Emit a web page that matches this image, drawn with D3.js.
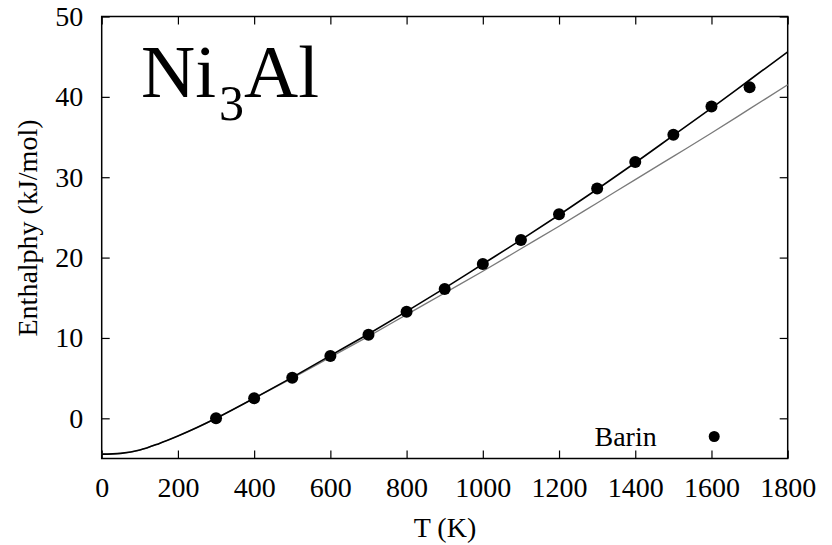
<!DOCTYPE html>
<html>
<head>
<meta charset="utf-8">
<script src="https://cdn.jsdelivr.net/npm/d3@7"></script>
<style>
  body { margin: 0; background: #fff; }
  .axis path { display: none; }
  .axis line { stroke: #000; stroke-width: 1.2; }
</style>
</head>
<body>
<div id="chart"></div>
<script>
// Barin experimental points
var barinT = [300, 400, 500, 600, 700, 800, 900, 1000, 1100, 1200, 1300, 1400, 1500, 1600, 1700];
var barinH = [0.0, 2.5, 5.05, 7.75, 10.4, 13.25, 16.1, 19.2, 22.2, 25.4, 28.6, 31.9, 35.3, 38.8, 41.2];

// calculated curves
var curveT  = [0, 50, 100, 150, 200, 250, 300, 400, 500, 600, 700, 800, 900, 1000, 1100, 1200, 1300, 1400, 1500, 1600, 1700, 1800];
var blackH  = [-4.45, -4.36, -3.95, -3.15, -2.2, -1.15, 0.0, 2.5, 5.1, 7.8, 10.5, 13.3, 16.2, 19.2, 22.2, 25.3, 28.5, 31.8, 35.2, 38.6, 42.1, 45.6];
var greyH   = [-4.45, -4.36, -3.95, -3.15, -2.2, -1.15, 0.0, 2.5, 5.0, 7.6, 10.2, 12.9, 15.6, 18.3, 21.1, 23.9, 26.8, 29.7, 32.6, 35.5, 38.5, 41.5];

var xTicks = [0, 200, 400, 600, 800, 1000, 1200, 1400, 1600, 1800];
var yTicks = [0, 10, 20, 30, 40, 50];

var serif = "'Liberation Serif', 'Times New Roman', Tinos, serif";

chart();

function chart() {
  var svg = d3.select("#chart")
              .append("svg")
              .attr("width", 832)
              .attr("height", 545);
  var margin = {top: 16.5, right: 44.3, bottom: 86.5, left: 101.7},
      width = +svg.attr("width") - margin.left - margin.right,
      height = +svg.attr("height") - margin.top - margin.bottom;

  var x = d3.scaleLinear().domain([0, 1800]).range([0, width]),
      y = d3.scaleLinear().domain([-5, 50]).range([height, 0]);

  var g = svg.append("g")
      .attr("transform", "translate(" + margin.left + "," + margin.top + ")");

  // axes with inward ticks on all four sides
  g.append("g")
      .attr("class", "axis")
      .attr("transform", "translate(0," + height + ")")
      .call(d3.axisBottom(x).tickValues(xTicks).tickFormat(d3.format("d")).tickSize(-8).tickPadding(19))
      .selectAll("text")
      .style("font-family", serif).style("font-size", "28px");
  g.append("g")
      .attr("class", "axis")
      .call(d3.axisTop(x).tickValues(xTicks).tickSize(-8).tickFormat(""));
  g.append("g")
      .attr("class", "axis")
      .call(d3.axisLeft(y).tickValues(yTicks).tickSize(-8).tickPadding(18.5))
      .selectAll("text")
      .style("font-family", serif).style("font-size", "28px");
  g.append("g")
      .attr("class", "axis")
      .attr("transform", "translate(" + width + ",0)")
      .call(d3.axisRight(y).tickValues(yTicks).tickSize(-8).tickFormat(""));

  // frame
  g.append("rect")
      .attr("width", width)
      .attr("height", height)
      .attr("fill", "none")
      .attr("stroke", "#000")
      .attr("stroke-width", 1.5);

  var line = function(vals) {
    return d3.line()
      .x(function(d, i) { return x(curveT[i]); })
      .y(function(d) { return y(d); })
      .curve(d3.curveCatmullRom)(vals);
  };

  g.append("path")
      .attr("d", line(greyH))
      .attr("fill", "none")
      .attr("stroke", "#7a7a7a")
      .attr("stroke-width", 1.3);

  g.append("path")
      .attr("d", line(blackH))
      .attr("fill", "none")
      .attr("stroke", "#000")
      .attr("stroke-width", 1.6);

  g.selectAll(".dot")
    .data(barinT)
    .enter().append("circle")
      .attr("class", "dot")
      .attr("cx", function(d) { return x(d); })
      .attr("cy", function(d, i) { return y(barinH[i]); })
      .attr("r", 6)
      .attr("fill", "#000");

  // legend
  g.append("text")
      .attr("x", 555)
      .attr("y", 429.5)
      .attr("text-anchor", "end")
      .style("font-family", serif)
      .style("font-size", "28px")
      .text("Barin");
  g.append("circle")
      .attr("cx", 612.5)
      .attr("cy", 420)
      .attr("r", 5.5)
      .attr("fill", "#000");

  // axis titles
  svg.append("text")
      .attr("x", 445)
      .attr("y", 537)
      .attr("text-anchor", "middle")
      .style("font-family", serif)
      .style("font-size", "28px")
      .text("T (K)");
  svg.append("text")
      .attr("text-anchor", "middle")
      .attr("transform", "translate(37,228)rotate(-90)")
      .style("font-family", serif)
      .style("font-size", "28px")
      .text("Enthalphy (kJ/mol)");

  // compound label
  var lab = svg.append("text")
      .attr("transform", "translate(141,97)")
      .style("font-family", serif)
      .style("font-size", "75px");
  lab.append("tspan").text("Ni");
  lab.append("tspan").attr("dy", 23).attr("dx", 3).style("font-size", "50px").text("3");
  lab.append("tspan").attr("dy", -23).text("Al");
}
</script>
</body>
</html>
